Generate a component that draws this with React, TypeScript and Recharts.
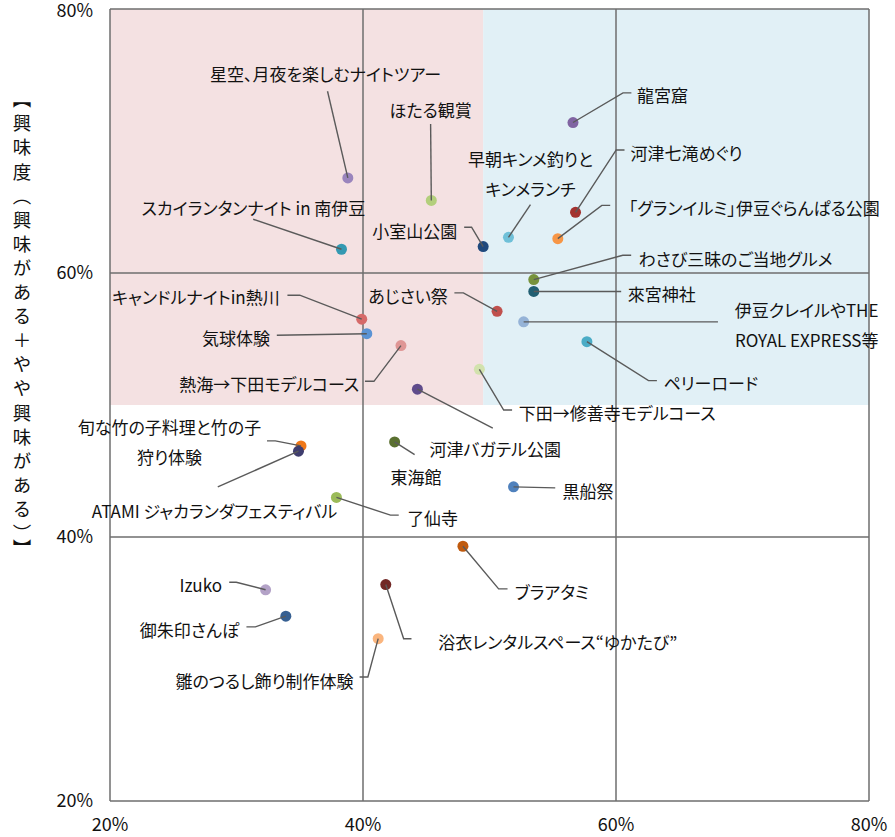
import {
  ReferenceArea,
  ReferenceLine,
  Scatter,
  ScatterChart,
  XAxis,
  YAxis,
} from "recharts";

// 観光コンテンツ（ラベル）
const spots = [
  "龍宮窟",
  "河津七滝めぐり",
  "「グランイルミ」伊豆ぐらんぱる公園",
  "早朝キンメ釣りと\nキンメランチ",
  "小室山公園",
  "ほたる観賞",
  "星空、月夜を楽しむナイトツアー",
  "スカイランタンナイト in 南伊豆",
  "わさび三昧のご当地グルメ",
  "來宮神社",
  "あじさい祭",
  "伊豆クレイルやTHE\nROYAL EXPRESS等",
  "ペリーロード",
  "キャンドルナイトin熱川",
  "気球体験",
  "熱海→下田モデルコース",
  "下田→修善寺モデルコース",
  "河津バガテル公園",
  "東海館",
  "旬な竹の子料理と竹の子\n狩り体験",
  "ATAMI ジャカランダフェスティバル",
  "黒船祭",
  "了仙寺",
  "ブラアタミ",
  "Izuko",
  "浴衣レンタルスペース“ゆかたび”",
  "御朱印さんぽ",
  "雛のつるし飾り制作体験",
];

// 横軸の値（%）
const xValues = [
  56.6, 56.8, 55.4, 51.5, 49.5, 45.4, 38.8, 38.3, 53.5, 53.5, 50.6, 52.7, 57.7, 39.9,
  40.3, 43.0, 49.2, 44.3, 42.5, 35.1, 34.9, 51.9, 37.9, 47.9, 32.3, 41.8, 33.9, 41.2,
];

// 興味度（%）
const yValues = [
  71.4, 64.6, 62.6, 62.7, 62.0, 65.5, 67.2, 61.8, 59.5, 58.6, 57.1, 56.3, 54.8, 56.5,
  55.4, 54.5, 52.7, 51.2, 47.2, 46.9, 46.5, 43.8, 43.0, 39.3, 36.0, 36.4, 34.0, 32.3,
];

const axisTicks = [20, 40, 60, 80];
const gridValues = [20, 40, 60, 80];
const pinkZone = { x1: 20, x2: 49.5, y1: 50, y2: 80 };
const blueZone = { x1: 49.5, x2: 80, y1: 50, y2: 80 };
const yTitle = "【興味度（興味がある＋やや興味がある）】";

const dotColors = [
  "#8064a2", "#a3322f", "#f79646", "#6fc0d8", "#1f497d", "#b3cf7c", "#9a85bd",
  "#3399b2", "#77933c", "#215f72", "#c0504d", "#95b3d7", "#4bacc6", "#d66a69",
  "#5b93d4", "#df9695", "#d2e2ad", "#5f4b8b", "#5a7030", "#f07818", "#3f3d6e",
  "#4f81bd", "#9bbb59", "#c05a0e", "#b3a2c7", "#722826", "#376092", "#fab57e",
];

// ラベル配置（点からのオフセット px）
type Lay = { dx: number; dy: number; anchor: "start" | "end" | "middle"; leader: number[][] };
const labelLayout: Lay[] = [
  { dx: 64, dy: -29, anchor: "start", leader: [[50, -29.6], [58.4, -29.6]] },
  { dx: 55, dy: -60.6, anchor: "start", leader: [[40.7, -62.3], [49, -62.3]] },
  { dx: 71, dy: -32, anchor: "start", leader: [[44, -33.3], [52.4, -33.3]] },
  { dx: 22, dy: -79.4, anchor: "middle", leader: [[22, -32.7]] },
  { dx: -26, dy: -16.7, anchor: "end", leader: [[-11.6, -19.4], [-19, -19.4]] },
  { dx: -0.7, dy: -91, anchor: "middle", leader: [[-0.7, -76.3]] },
  { dx: -22.3, dy: -105, anchor: "middle", leader: [[-20.3, -86.7]] },
  { dx: -88, dy: -42.7, anchor: "middle", leader: [[-88.3, -30]] },
  { dx: 104.7, dy: -22, anchor: "start", leader: [[89, -24.3], [97.4, -24.3]] },
  { dx: 94, dy: 1.3, anchor: "start", leader: [[87.4, 0]] },
  { dx: -49.3, dy: -16.7, anchor: "end", leader: [[-33.7, -18.4], [-42.7, -18.4]] },
  { dx: 283, dy: -12.7, anchor: "middle", leader: [[194.3, 0]] },
  { dx: 76.6, dy: 40.7, anchor: "start", leader: [[61.6, 39], [70, 39]] },
  { dx: -82, dy: -23, anchor: "end", leader: [[-62, -24], [-74.3, -24]] },
  { dx: -96.7, dy: 3, anchor: "end", leader: [[-90, 1.6]] },
  { dx: -41.7, dy: 37.3, anchor: "end", leader: [[-27, 35.7], [-36, 35.7]] },
  { dx: 39.3, dy: 42.4, anchor: "start", leader: [[24.3, 40.7], [32.7, 40.7]] },
  { dx: 12, dy: 59, anchor: "start", leader: [[75.4, 39]] },
  { dx: 21.3, dy: 33.7, anchor: "middle", leader: [[20, 12.7]] },
  { dx: -131.5, dy: -19.7, anchor: "middle", leader: [[-25.7, -5], [-34, -5]] },
  { dx: -84, dy: 58.3, anchor: "middle", leader: [[-80.7, 35.7]] },
  { dx: 49, dy: 3.4, anchor: "start", leader: [[41.7, 1]] },
  { dx: 70.7, dy: 20, anchor: "start", leader: [[54, 17.7], [62.3, 17.7]] },
  { dx: 51.8, dy: 45, anchor: "start", leader: [[35.7, 42.6], [44.6, 42.6]] },
  { dx: -43.6, dy: -6, anchor: "end", leader: [[-29.3, -7.6], [-36.4, -7.6]] },
  { dx: 52.5, dy: 56, anchor: "start", leader: [[17.9, 54.3], [25.7, 54.3]] },
  { dx: -46.4, dy: 12.3, anchor: "end", leader: [[-30.4, 10.7], [-39.4, 10.7]] },
  { dx: -24.6, dy: 41.7, anchor: "end", leader: [[-10.3, 38.4], [-18.6, 38.4]] },
];

const FONT = "'Noto Sans CJK JP', 'Noto Sans', sans-serif";

const data = spots.map((name, i) => ({ name, x: xValues[i], y: yValues[i], idx: i }));

function SpotMark(props: any) {
  const { cx, cy, payload } = props;
  const lay = labelLayout[payload.idx];
  const pts = [[cx, cy], ...lay.leader.map(([dx, dy]) => [cx + dx, cy + dy])]
    .map((p) => p.join(","))
    .join(" ");
  const lines = String(payload.name).split("\n");
  return (
    <g>
      <circle cx={cx} cy={cy} r={5.5} fill={dotColors[payload.idx]} />
      <polyline points={pts} fill="none" stroke="#5a5a5a" strokeWidth={1.4} />
      <text
        textAnchor={lay.anchor}
        dominantBaseline="central"
        fontFamily={FONT}
        fontSize={17}
        fill="#111"
        style={{ fontFeatureSettings: "'palt'" }}
      >
        {lines.map((line, i) => (
          <tspan key={i} x={cx + lay.dx} y={cy + lay.dy + i * 30}>
            {line}
          </tspan>
        ))}
      </text>
    </g>
  );
}

function YTitle() {
  return (
    <text
      x={22}
      y={90}
      fontFamily={FONT}
      fontSize={18.5}
      fill="#111"
      style={{ writingMode: "vertical-rl", letterSpacing: 5.6 } as any}
    >
      {yTitle}
    </text>
  );
}

const tickStyle = { fontFamily: FONT, fontSize: 18, fill: "#111" };
const lineColor = "#6e6e6e";

export default function App() {
  return (
    <div style={{ position: "absolute", left: 0, top: 0 }}>
      <ScatterChart width={895} height={837} margin={{ top: 9, right: 26, bottom: 0, left: 0 }}>
        <ReferenceArea {...pinkZone} fill="#f4e1e2" fillOpacity={1} stroke="none" />
        <ReferenceArea {...blueZone} fill="#e1f0f6" fillOpacity={1} stroke="none" />
        {gridValues.map((v) => (
          <ReferenceLine key={"x" + v} x={v} stroke={lineColor} strokeWidth={1.5} />
        ))}
        {gridValues.map((v) => (
          <ReferenceLine key={"y" + v} y={v} stroke={lineColor} strokeWidth={1.5} />
        ))}
        <XAxis
          type="number"
          dataKey="x"
          domain={[20, 80]}
          ticks={axisTicks}
          tickFormatter={(v) => `${v}%`}
          axisLine={false}
          tickLine={false}
          tickMargin={11}
          height={36}
          tick={tickStyle}
        />
        <YAxis
          type="number"
          dataKey="y"
          domain={[20, 80]}
          ticks={axisTicks}
          tickFormatter={(v) => `${v}%`}
          axisLine={false}
          tickLine={false}
          tickMargin={11}
          width={110}
          tick={{ ...tickStyle, dy: "0.42em" }}
          label={<YTitle />}
        />
        <Scatter data={data} shape={<SpotMark />} isAnimationActive={false} />
      </ScatterChart>
    </div>
  );
}
